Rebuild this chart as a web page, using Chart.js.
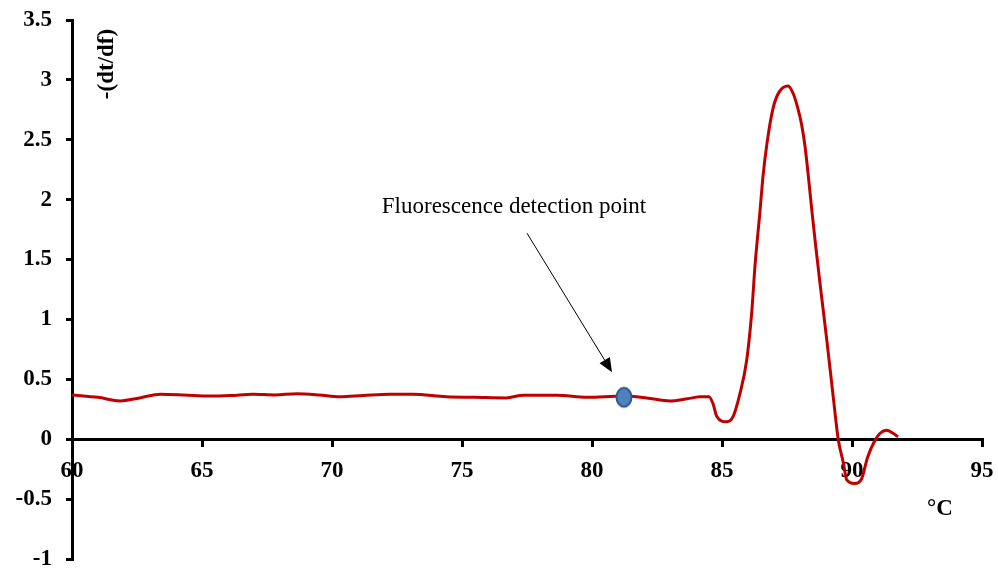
<!DOCTYPE html>
<html>
<head>
<meta charset="utf-8">
<script src="https://cdn.jsdelivr.net/npm/chart.js@4/dist/chart.umd.min.js"></script>
<style>
  html, body { margin: 0; padding: 0; background: #fff; }
  #wrap { width: 998px; height: 570px; }
</style>
</head>
<body>
<div id="wrap"><canvas id="c" width="998" height="570"></canvas></div>
<script>
// ---- data ----
const temps = [60, 61, 61.85, 62.6, 63.4, 64.3, 65.3, 66.1, 66.96, 67.8, 68.65, 69.5, 70.3, 71.2, 72.23, 73.1, 74.4, 75.5, 76.7, 77.35, 78.65, 79.8, 81.2, 82.1, 83, 83.6, 84.15, 84.5, 84.65, 84.8, 85.18, 85.43, 85.69, 85.95, 86.14, 86.27, 86.46, 86.58, 86.73, 86.96, 87.2, 87.54, 87.75, 87.92, 88.06, 88.19, 88.31, 88.46, 88.6, 88.77, 89.03, 89.28, 89.47, 89.67, 89.8, 90.1, 90.37, 90.6, 90.88, 91.08, 91.33, 91.58, 91.77];
const derivValues = [0.37, 0.35, 0.32, 0.345, 0.376, 0.37, 0.36, 0.365, 0.376, 0.37, 0.38, 0.37, 0.354, 0.365, 0.376, 0.376, 0.354, 0.35, 0.345, 0.368, 0.368, 0.35, 0.36, 0.345, 0.32, 0.335, 0.354, 0.355, 0.3, 0.19, 0.145, 0.19, 0.38, 0.66, 1.05, 1.45, 1.9, 2.2, 2.47, 2.76, 2.9, 2.95, 2.88, 2.76, 2.63, 2.45, 2.22, 1.9, 1.62, 1.3, 0.83, 0.35, 0.0, -0.2, -0.34, -0.37, -0.33, -0.15, -0.01, 0.05, 0.075, 0.05, 0.02];
const detectionPoint = { x: 81.23, y: 0.35 };
const xTicks = [60, 65, 70, 75, 80, 85, 90, 95];
const yTicks = [-1, -0.5, 0, 0.5, 1, 1.5, 2, 2.5, 3, 3.5];
const yAxisTitle = '-(dt/df)';
const xAxisTitle = '°C';
const annotationText = 'Fluorescence detection point';
const annotationTextPos = { x: 77.0, y: 1.89 };
const arrowFrom = { x: 77.5, y: 1.72 };
const arrowTo = { x: 80.77, y: 0.56 };

// ---- marker image (ellipse) ----
const mk = document.createElement('canvas');
mk.width = 20; mk.height = 24;
(function () {
  const g = mk.getContext('2d');
  g.beginPath();
  g.ellipse(10, 12, 7.5, 9.5, 0, 0, Math.PI * 2);
  g.fillStyle = '#4f81bd';
  g.fill();
  g.lineWidth = 2;
  g.strokeStyle = '#2c5a8c';
  g.stroke();
})();

const SERIF = '"Liberation Serif", "Times New Roman", serif';

const annot = {
  id: 'annot',
  afterDraw(chart) {
    const ctx = chart.ctx;
    const xs = chart.scales.x, ys = chart.scales.y;
    ctx.save();
    // annotation text
    ctx.fillStyle = '#000';
    ctx.font = '23px ' + SERIF;
    ctx.textAlign = 'center';
    ctx.textBaseline = 'alphabetic';
    ctx.fillText(annotationText, xs.getPixelForValue(annotationTextPos.x), ys.getPixelForValue(annotationTextPos.y));
    // arrow
    const x1 = xs.getPixelForValue(arrowFrom.x), y1 = ys.getPixelForValue(arrowFrom.y);
    const x2 = xs.getPixelForValue(arrowTo.x), y2 = ys.getPixelForValue(arrowTo.y);
    const ang = Math.atan2(y2 - y1, x2 - x1);
    const hl = 14, hw = 6;
    const bx = x2 - hl * Math.cos(ang), by = y2 - hl * Math.sin(ang);
    ctx.strokeStyle = '#000';
    ctx.lineWidth = 1;
    ctx.beginPath();
    ctx.moveTo(x1, y1);
    ctx.lineTo(bx, by);
    ctx.stroke();
    ctx.beginPath();
    ctx.moveTo(x2, y2);
    ctx.lineTo(bx + hw * Math.sin(ang), by - hw * Math.cos(ang));
    ctx.lineTo(bx - hw * Math.sin(ang), by + hw * Math.cos(ang));
    ctx.closePath();
    ctx.fillStyle = '#000';
    ctx.fill();
    // y axis title (rotated, reads bottom to top)
    ctx.font = 'bold 23px ' + SERIF;
    ctx.save();
    ctx.translate(chart.chartArea.left + 35, chart.chartArea.top + 44);
    ctx.rotate(-Math.PI / 2);
    ctx.textAlign = 'center';
    ctx.textBaseline = 'middle';
    ctx.fillText(yAxisTitle, 0, 0);
    ctx.restore();
    // x axis title
    ctx.textAlign = 'center';
    ctx.textBaseline = 'middle';
    ctx.fillText(xAxisTitle, chart.chartArea.right - 42, ys.getPixelForValue(-0.58));
    ctx.restore();
  }
};

const tickFont = { family: SERIF, size: 23, weight: 'bold' };

new Chart(document.getElementById('c'), {
  type: 'line',
  data: {
    datasets: [
      {
        data: [detectionPoint],
        pointStyle: mk,
        pointRadius: 10,
        showLine: false,
        order: 0
      },
      {
        data: temps.map((t, i) => ({ x: t, y: derivValues[i] })),
        borderColor: '#c00000',
        borderWidth: 3,
        pointRadius: 0,
        fill: false,
        cubicInterpolationMode: 'monotone',
        order: 1
      }
    ]
  },
  options: {
    responsive: false,
    animation: false,
    devicePixelRatio: 1,
    layout: { padding: { top: 20, right: 16, bottom: 10, left: 0 } },
    plugins: { legend: { display: false }, tooltip: { enabled: false } },
    scales: {
      x: {
        type: 'linear',
        min: 60, max: 95,
        position: { y: 0 },
        afterBuildTicks: s => { s.ticks = xTicks.map(v => ({ value: v })); },
        afterFit: s => { s.paddingLeft = 0; s.paddingRight = 0; },
        ticks: { font: tickFont, color: '#000', padding: 12, maxRotation: 0, autoSkip: false, callback: v => String(v) },
        grid: { drawOnChartArea: false, drawTicks: true, tickLength: 6, color: '#000', lineWidth: 3 },
        border: { display: true, color: '#000', width: 3 }
      },
      y: {
        type: 'linear',
        min: -1, max: 3.5,
        afterBuildTicks: s => { s.ticks = yTicks.map(v => ({ value: v })); },
        afterFit: s => { s.width = 72; s.paddingTop = 0; s.paddingBottom = 0; },
        ticks: { font: tickFont, color: '#000', padding: 14, callback: v => String(v) },
        grid: { drawOnChartArea: false, drawTicks: true, tickLength: 6, color: '#000', lineWidth: 3 },
        border: { display: true, color: '#000', width: 3 }
      }
    }
  },
  plugins: [annot]
});
</script>
</body>
</html>
